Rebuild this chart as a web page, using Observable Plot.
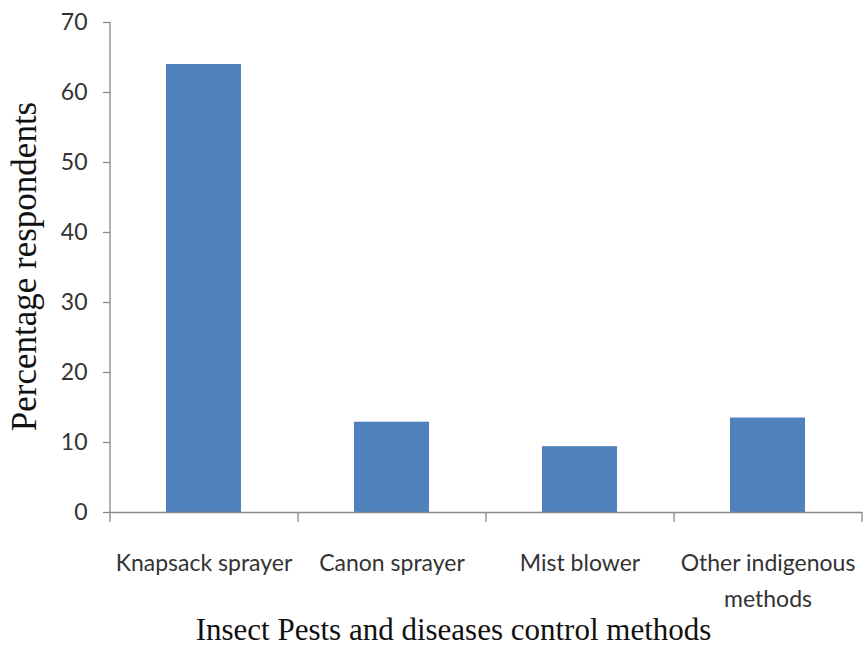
<!DOCTYPE html>
<html><head><meta charset="utf-8">
<script src="https://cdn.jsdelivr.net/npm/d3@7"></script>
<script src="https://cdn.jsdelivr.net/npm/@observablehq/plot@0.6"></script>
<style>body{margin:0;background:#fff}</style>
</head><body><div id="chart"></div>
<script>
const categories = ["Knapsack sprayer", "Canon sprayer", "Mist blower", "Other indigenous methods"];
const values = [64, 12.9, 9.4, 13.5];
const tickLabels = ["Knapsack sprayer", "Canon sprayer", "Mist blower", "Other indigenous\nmethods"];
const yTicks = [0, 10, 20, 30, 40, 50, 60, 70];
const xTitle = "Insect Pests and diseases control methods";
const yTitle = "Percentage respondents";

const data = categories.map((c, i) => ({category: c, value: values[i]}));
const W = 864, H = 645, mL = 110, mR = 2, mT = 22, mB = 133;
const half = (W - mL - mR) / categories.length / 2;
const axisColor = "#898989";
const textColor = "#333333";

const plot = Plot.plot({
  width: W, height: H,
  marginLeft: mL, marginRight: mR, marginTop: mT, marginBottom: mB,
  style: {fontFamily: "Lato, sans-serif", background: "#fff", overflow: "visible"},
  x: {domain: categories, paddingInner: 0.6, paddingOuter: 0.3, label: null},
  y: {domain: [0, 70], label: null},
  marks: [
    Plot.barY(data, {x: "category", y: "value", fill: "#4F81BD"}),
    Plot.ruleY([0], {stroke: axisColor, strokeWidth: 1.3}),
    Plot.ruleX([categories[0]], {dx: -half, y1: 0, y2: 70, stroke: axisColor, strokeWidth: 1.3}),
    Plot.axisY({ticks: yTicks, tickSize: 7, tickPadding: 16, fontSize: 23, stroke: axisColor, strokeWidth: 1.3, fill: textColor, label: null}),
    Plot.axisX({tickSize: 10, dx: -half, tickFormat: () => "", stroke: axisColor, strokeWidth: 1.3, label: null}),
    Plot.axisX({ticks: [categories[categories.length - 1]], tickSize: 10, dx: half, tickFormat: () => "", stroke: axisColor, strokeWidth: 1.3, label: null}),
    Plot.axisX({tickSize: 0, tickPadding: 33, fontSize: 23, lineHeight: 1.56, fill: textColor,
      tickFormat: (d) => tickLabels[categories.indexOf(d)], label: null}),
    Plot.text([xTitle], {frameAnchor: "bottom", dx: -33, dy: 127, lineAnchor: "bottom", textAnchor: "middle",
      fontFamily: "Liberation Serif, serif", fontSize: 31, fill: "#111"}),
    Plot.text([yTitle], {frameAnchor: "left", rotate: -90, dx: -75, dy: -1, lineAnchor: "bottom", textAnchor: "middle",
      fontFamily: "Liberation Serif, serif", fontSize: 35, fill: "#111"})
  ]
});
document.getElementById("chart").appendChild(plot);
</script>
</body></html>
